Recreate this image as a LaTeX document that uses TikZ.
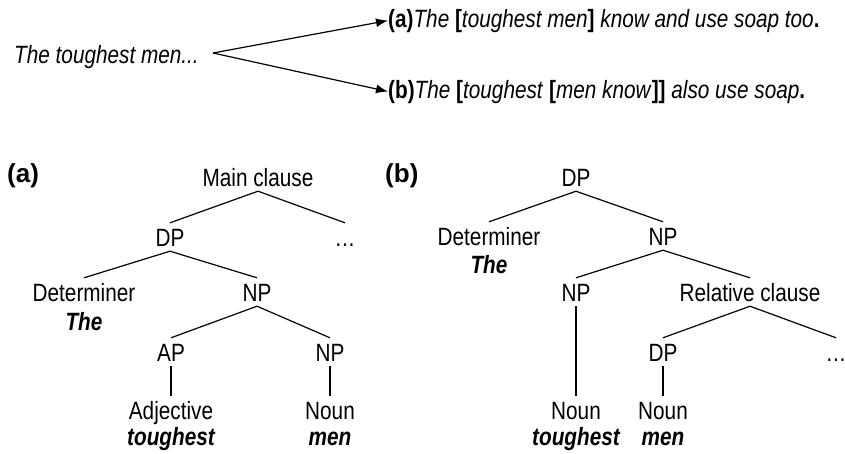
\documentclass[tikz,border=0pt]{standalone}
\usepackage{fontspec}
\setmainfont{Liberation Sans}[FakeStretch=0.83]
\newfontfamily\panelfont{Liberation Sans}
\usetikzlibrary{arrows.meta}
\newcommand{\treesize}{\fontsize{25}{29}\selectfont}
\newcommand{\brk}[1]{\textbf{\upshape #1}}
\tikzset{
  cat/.style      = {anchor=base, inner xsep=0pt, inner ysep=5pt,
                     text height=18pt, text depth=0pt},
  leafword/.style = {anchor=base, inner sep=0pt, font=\treesize\bfseries\itshape},
  panel/.style    = {anchor=base west, inner sep=0pt,
                     font=\panelfont\bfseries\fontsize{26}{30}\selectfont},
  sentence/.style = {anchor=base west, inner sep=0pt},
  branch/.style   = {line width=1.2pt},
  pointer/.style  = {-{Latex[length=12pt,width=9pt]}, line width=1.2pt},
}

\begin{document}
\begin{tikzpicture}[x=1pt,y=-1pt,font=\treesize]
\useasboundingbox (0,0) rectangle (845,453);
% ---- the two readings ----
\node[sentence,font=\treesize\itshape] (start) at (14,63) {The toughest men...};
\coordinate (fork) at (213,53);
\node[sentence] (senA) at (388,27)
  {\textbf{(a)}\textit{The }\brk{[}\textit{toughest men}\brk{]}\textit{ know and use soap too}\brk{.}};
\node[sentence] (senB) at (388,98)
  {\textbf{(b)}\textit{The }\brk{[}\textit{toughest }\brk{[}\textit{men know}\brk{]]}\textit{ also use soap}\brk{.}};
\draw[pointer] (fork) -- (senA.west);
\draw[pointer] (fork) -- (senB.west);
% ---- (a) tree ----
\node[panel] (labA) at (7,182) {(a)};
\node[cat] (mainA) at (258,186) {Main clause};
\node[cat] (dpA)   at (170,246) {DP};
\node[cat] (dotsA) at (345,246) {\ldots};
\node[cat] (detA)  at (84,301)  {Determiner};
\node[leafword] (theA) at (84,330) {The};
\node[cat] (npA)   at (257,301) {NP};
\node[cat] (apA)   at (171,361) {AP};
\node[cat] (npA2)  at (330,361) {NP};
\node[cat] (adjA)  at (171,419) {Adjective};
\node[leafword] (toughA) at (171,445) {toughest};
\node[cat] (nounA) at (330,419) {Noun};
\node[leafword] (menA) at (330,445) {men};
\draw[branch] (mainA.south) -- (dpA.north);
\draw[branch] (mainA.south) -- (dotsA.north);
\draw[branch] (dpA.south) -- (detA.north);
\draw[branch] (dpA.south) -- (npA.north);
\draw[branch] (npA.south) -- (apA.north);
\draw[branch] (npA.south) -- (npA2.north);
\draw[branch] (apA.south) -- (adjA.north);
\draw[branch] (npA2.south) -- (nounA.north);
% ---- (b) tree ----
\node[panel] (labB) at (385,182) {(b)};
\node[cat] (dpB)   at (576,186) {DP};
\node[cat] (detB)  at (489,245) {Determiner};
\node[leafword] (theB) at (489,273) {The};
\node[cat] (npB)   at (663,245) {NP};
\node[cat] (npB2)  at (576,301) {NP};
\node[cat] (relB)  at (750,301) {Relative clause};
\node[cat] (dpB2)  at (663,361) {DP};
\node[cat] (dotsB) at (836,361) {\ldots};
\node[cat] (nounB) at (576,419) {Noun};
\node[leafword] (toughB) at (576,445) {toughest};
\node[cat] (nounB2) at (663,419) {Noun};
\node[leafword] (menB) at (663,445) {men};
\draw[branch] (dpB.south) -- (detB.north);
\draw[branch] (dpB.south) -- (npB.north);
\draw[branch] (npB.south) -- (npB2.north);
\draw[branch] (npB.south) -- (relB.north);
\draw[branch] (relB.south) -- (dpB2.north);
\draw[branch] (relB.south) -- (dotsB.north);
\draw[branch] (npB2.south) -- (nounB.north);
\draw[branch] (dpB2.south) -- (nounB2.north);
\end{tikzpicture}
\end{document}
